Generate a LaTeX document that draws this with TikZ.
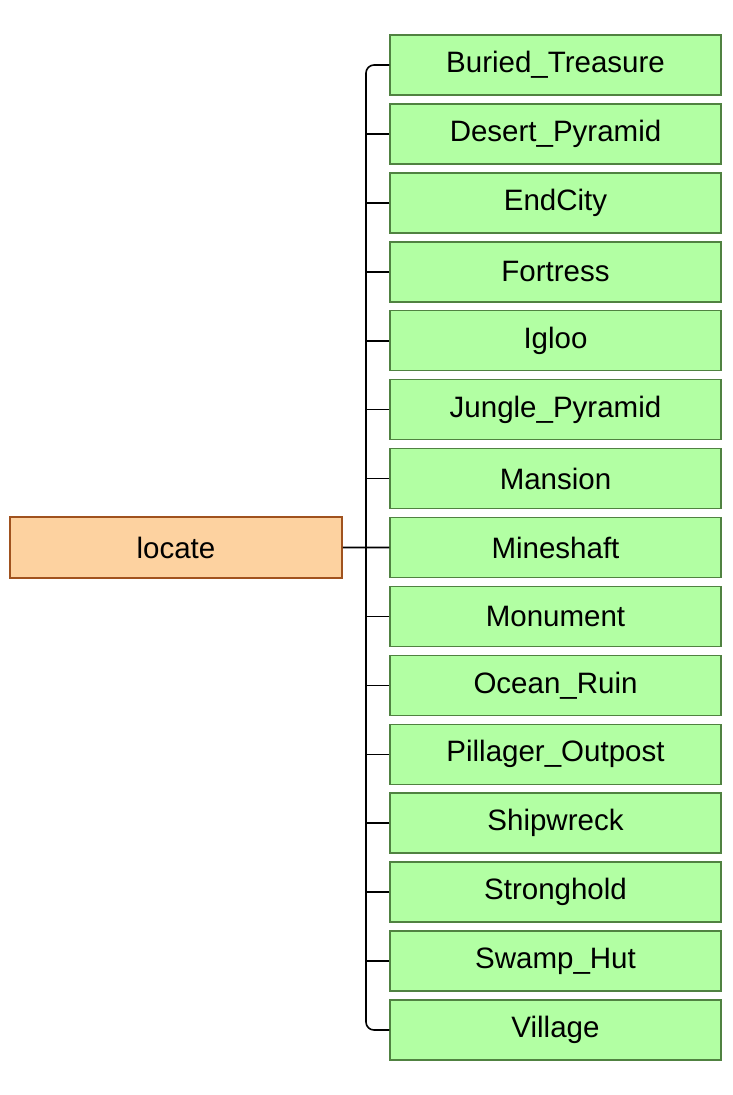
\documentclass[tikz,border=0pt]{standalone}
\usepackage{fontspec}
\setmainfont{Liberation Sans}
\usetikzlibrary{positioning}
\definecolor{leafgreen}{RGB}{178,255,163}
\definecolor{leafedge}{RGB}{80,130,65}
\definecolor{rootfill}{RGB}{253,210,160}
\definecolor{rootedge}{RGB}{160,82,30}
\tikzset{
  every node/.style={font=\fontsize{29.5}{34}\selectfont},
  leaf/.style={draw=leafedge, fill=leafgreen, line width=1.5pt,
    minimum width=331pt, minimum height=60pt, inner sep=0},
  root/.style={draw=rootedge, fill=rootfill, line width=1.5pt,
    minimum width=332pt, minimum height=61pt, inner sep=0},
  link/.style={draw=black, line width=1.6pt}
}
\begin{document}
\begin{tikzpicture}[x=1pt, y=-1pt]
  \useasboundingbox (0,0) rectangle (732,1095);

  \node[root] (locate) at (176,547.5) {locate};

  \foreach \name [count=\i] in {Buried\_Treasure, Desert\_Pyramid, EndCity, Fortress, Igloo, Jungle\_Pyramid, Mansion, Mineshaft, Monument, Ocean\_Ruin, Pillager\_Outpost, Shipwreck, Stronghold, Swamp\_Hut, Village}
    \node[leaf] (t\i) at (555.5, {65+68.93*(\i-1)}) {\name};

  % trunk
  \coordinate (trunk) at (366,547.5);
  \draw[link] (locate.east) -- (t8.west);
  \draw[link, rounded corners=8pt] (t1.west) -| (trunk) |- (t15.west);
  \foreach \i in {2,...,7,9,10,...,14}
    \draw[link] (t\i.west) -- (t\i.west -| trunk);
\end{tikzpicture}
\end{document}
